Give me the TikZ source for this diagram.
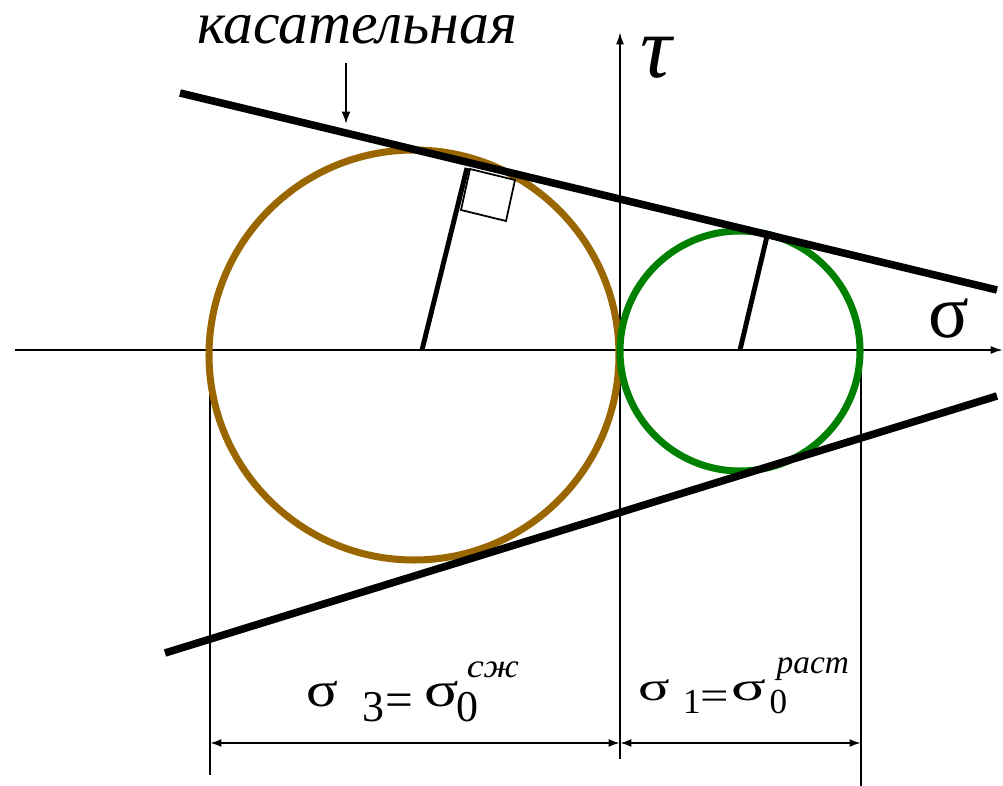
\documentclass[tikz,border=0pt]{standalone}
\usepackage{fontspec}
\setmainfont{Liberation Serif}
\usetikzlibrary{arrows.meta}
\definecolor{ringthree}{RGB}{153,102,0}
\definecolor{ringone}{RGB}{0,128,0}
\newcommand{\pc}[2]{\makebox[#1][l]{#2}}

\begin{document}
\begin{tikzpicture}[x=0.02cm,y=-0.02cm,
  axisline/.style={line width=1.1pt,-{Latex[length=7pt,width=4.5pt]}},
  guide/.style={line width=1.1pt},
  dimline/.style={line width=1.1pt,{Latex[length=6.5pt,width=4.5pt]}-{Latex[length=6.5pt,width=4.5pt]}},
  tangentline/.style={line width=4.3pt},
  radline/.style={line width=2.8pt},
  ring/.style={line width=4pt}]
\useasboundingbox (0,0) rectangle (1003,786);
\coordinate (xa) at (15,350);
\coordinate (xb) at (1003,350);
\coordinate (ya) at (620,759);
\coordinate (yb) at (620,32);
\coordinate (c3) at (414,355);
\coordinate (c1) at (740,351);
\coordinate (o3) at (422,350);
\coordinate (t3) at (467,168);
\coordinate (o1) at (740,350);
\coordinate (t1) at (768,232);
\coordinate (ua) at (180,93);
\coordinate (ub) at (997,290);
\coordinate (la) at (165,653);
\coordinate (lb) at (997,396);
\coordinate (g3a) at (210,350);
\coordinate (g3b) at (210,775);
\coordinate (g1a) at (861,350);
\coordinate (g1b) at (861,786);
\coordinate (d3) at (210,743);
\coordinate (d0) at (620,743);
\coordinate (d1) at (861,743);
\coordinate (pa) at (346,63);
\coordinate (pb) at (346,124);
\node[anchor=base,font=\fontsize{34}{36}\selectfont\itshape,inner sep=0pt] (kas) at (357,44) {касательная};
\node[anchor=base west,font=\fontsize{50}{52}\selectfont\itshape,inner sep=0pt] (tau) at (640,78) {τ};
\node[anchor=base,font=\fontsize{43}{45}\selectfont,inner sep=0pt] (sig) at (949,338) {σ};
\node[anchor=base west,inner sep=0pt,font=\fontsize{28}{30}\selectfont] (lab3) at (306,706) {\pc{31.8pt}{\scalebox{1.2}[1]{σ}}\pc{13pt}{\raisebox{-9pt}{\fontsize{25}{27}\selectfont 3}}\pc{22.7pt}{\raisebox{-6pt}{=}}\pc{18.1pt}{\scalebox{1.3}[1]{σ}}\pc{5.7pt}{\raisebox{-9pt}{\fontsize{25}{27}\selectfont 0}}\raisebox{16pt}{\scalebox{1.15}[1]{\fontsize{19}{20}\selectfont\itshape сж}}};
\node[anchor=base west,inner sep=0pt,font=\fontsize{23}{25}\selectfont] (lab1) at (638,700) {\pc{25.5pt}{\scalebox{1.45}[1]{σ}}\pc{9.6pt}{\raisebox{-7.4pt}{\fontsize{20}{22}\selectfont 1}}\pc{18.1pt}{\raisebox{-5.5pt}{\scalebox{1.25}[1]{=}}}\pc{21.5pt}{\scalebox{1.6}[1]{σ}}\pc{4pt}{\raisebox{-7.4pt}{\fontsize{20}{22}\selectfont 0}}\raisebox{15.3pt}{\fontsize{19}{20}\selectfont\itshape раст}};
\draw[axisline] (xa) -- (xb);
\draw[axisline] (ya) -- (yb);
\draw[guide] (g3a) -- (g3b);
\draw[guide] (g1a) -- (g1b);
\draw[dimline] (d3) -- (d0);
\draw[dimline] (d0) -- (d1);
\draw[ring,ringthree] (c3) circle[radius=205];
\draw[ring,ringone] (c1) circle[radius=120];
\draw[tangentline] (ua) -- (ub);
\draw[tangentline] (la) -- (lb);
\draw[radline] (o3) -- (t3);
\draw[radline] (o1) -- (t1);
\draw[line width=1pt] (t3) ++(3,1) -- ++(45,11) -- ++(-9,41) -- ++(-45,-11) -- cycle;
\draw[line width=1.1pt,-{Latex[length=7pt,width=5pt]}] (pa) -- (pb);
\end{tikzpicture}
\end{document}
